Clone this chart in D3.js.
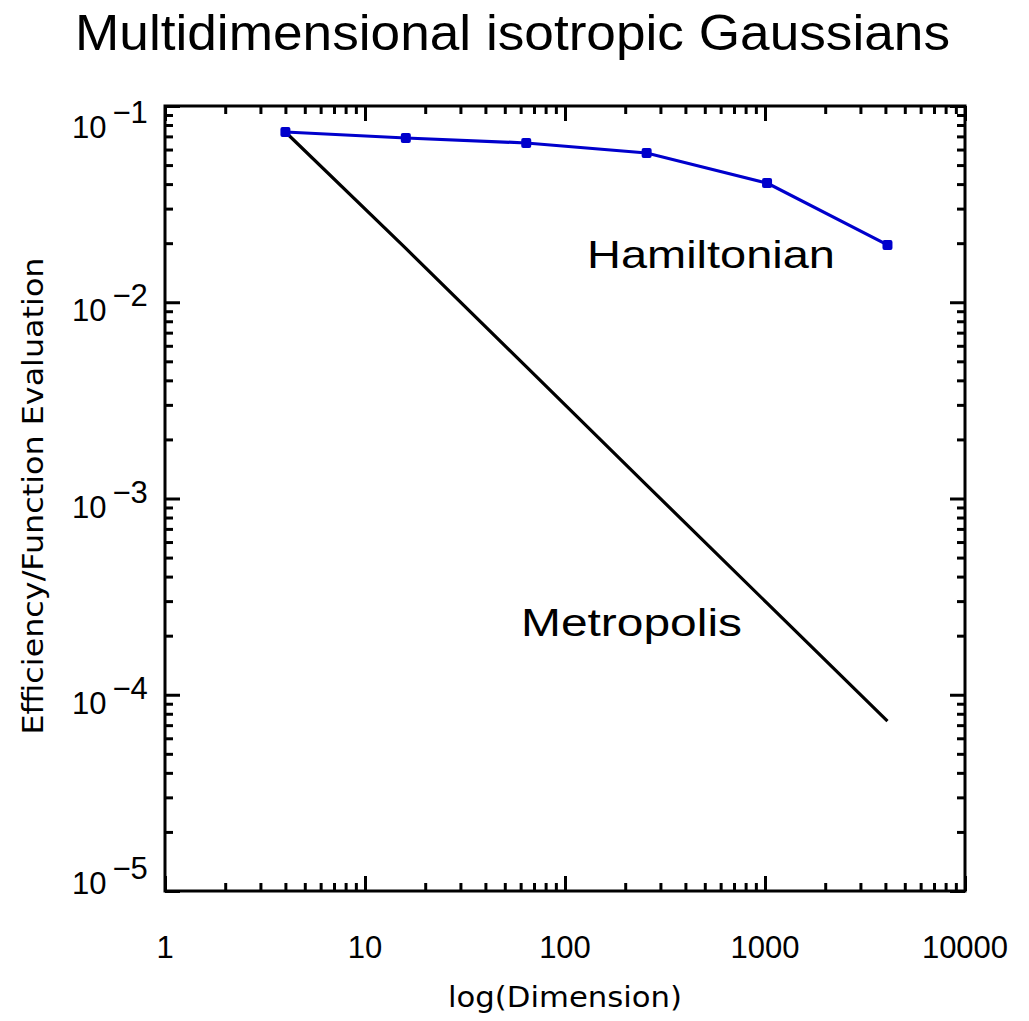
<html>
  <head>
    <script src="https://d3js.org/d3.v7.min.js"></script>
    <style>
      body { margin: 0; background: #fff; }
      svg { font-family: "Liberation Sans", Arial, sans-serif; }
      .axis path, .axis line { stroke: #000; stroke-width: 3; }
      .tick-label { font-size: 31px; fill: #000; }
    </style>
  </head>
  <body>
    <div id="chart"></div>
    <script>
// data
var dims = [4, 16, 64, 256, 1024, 4096];
var hamiltonian = [0.0737, 0.0687, 0.0648, 0.0576, 0.0405, 0.0196];
var metropolis = [0.0737, 0.0188, 0.0047, 0.00117, 0.000293, 0.0000733];
var xTicks = [1, 10, 100, 1000, 10000];
var xTickLabels = ["1", "10", "100", "1000", "10000"];
var yTicks = [1e-1, 1e-2, 1e-3, 1e-4, 1e-5];
var yTickExps = ["\u22121", "\u22122", "\u22123", "\u22124", "\u22125"];

var width = 1029, height = 1021;
var plotLeft = 165, plotRight = 965, plotTop = 106, plotBottom = 891;

var svg = d3.select("#chart").append("svg")
  .attr("width", width)
  .attr("height", height);

var xScale = d3.scaleLog().domain([1, 10000]).range([plotLeft, plotRight]);
var yScale = d3.scaleLog().domain([1e-5, 1e-1]).range([plotBottom, plotTop]);

/* minor ticks 2..9 in each decade */
var xMinor = [], yMinor = [];
xTicks.slice(0, -1).forEach(function(d) {
  for (var k = 2; k <= 9; k++) xMinor.push(d * k);
});
yTicks.slice(1).forEach(function(d) {
  for (var k = 2; k <= 9; k++) yMinor.push(d * k);
});

function addAxis(axis, tx, ty) {
  var g = svg.append("g")
    .attr("class", "axis")
    .attr("transform", `translate(${tx}, ${ty})`)
    .call(axis);
  g.select(".domain").remove();
  g.selectAll("text").remove();
}

[[xTicks, 15], [xMinor, 8]].forEach(function(t) {
  addAxis(d3.axisBottom(xScale).tickValues(t[0]).tickSize(-t[1]).tickFormat(""), 0, plotBottom);
  addAxis(d3.axisTop(xScale).tickValues(t[0]).tickSize(-t[1]).tickFormat(""), 0, plotTop);
});
[[yTicks, 15], [yMinor, 8]].forEach(function(t) {
  addAxis(d3.axisLeft(yScale).tickValues(t[0]).tickSize(-t[1]).tickFormat(""), plotLeft, 0);
  addAxis(d3.axisRight(yScale).tickValues(t[0]).tickSize(-t[1]).tickFormat(""), plotRight, 0);
});

/* frame */
svg.append("rect")
  .attr("x", plotLeft).attr("y", plotTop)
  .attr("width", plotRight - plotLeft).attr("height", plotBottom - plotTop)
  .attr("fill", "none").attr("stroke", "#000").attr("stroke-width", 3);

/* x tick labels */
svg.selectAll(".xlab")
  .data(xTicks).enter()
  .append("text")
  .attr("class", "tick-label")
  .attr("x", d => xScale(d))
  .attr("y", 958)
  .attr("text-anchor", "middle")
  .text((d, i) => xTickLabels[i]);

/* y tick labels, 10 with superscript exponent */
var ylab = svg.selectAll(".ylab")
  .data(yTicks).enter()
  .append("text")
  .attr("class", "tick-label")
  .attr("x", 72)
  .attr("y", d => Math.max(138, Math.min(894, yScale(d) + 19)));
ylab.append("tspan").text("10");
ylab.append("tspan")
  .attr("dx", 6)
  .attr("dy", -15)
  .text((d, i) => yTickExps[i]);

/* lines */
var line = d3.line()
  .x((d, i) => xScale(dims[i]))
  .y(d => yScale(d));

svg.append("path")
  .attr("d", line(metropolis))
  .attr("fill", "none")
  .attr("stroke", "#000")
  .attr("stroke-width", 3.2);

svg.append("path")
  .attr("d", line(hamiltonian))
  .attr("fill", "none")
  .attr("stroke", "#0000cc")
  .attr("stroke-width", 3.2);

svg.selectAll(".pt")
  .data(hamiltonian).enter()
  .append("rect")
  .attr("x", (d, i) => xScale(dims[i]) - 5)
  .attr("y", d => yScale(d) - 5)
  .attr("width", 10).attr("height", 10)
  .attr("rx", 2)
  .attr("fill", "#0000cc");

/* annotations */
svg.append("text")
  .attr("x", 587).attr("y", 268)
  .attr("font-size", 39)
  .attr("textLength", 248)
  .attr("lengthAdjust", "spacingAndGlyphs")
  .text("Hamiltonian");

svg.append("text")
  .attr("x", 521).attr("y", 636)
  .attr("font-size", 39)
  .attr("textLength", 221)
  .attr("lengthAdjust", "spacingAndGlyphs")
  .text("Metropolis");

/* titles */
svg.append("text")
  .attr("x", 75).attr("y", 50)
  .attr("font-size", 50)
  .attr("textLength", 875)
  .attr("lengthAdjust", "spacingAndGlyphs")
  .text("Multidimensional isotropic Gaussians");

svg.append("text")
  .attr("x", 565).attr("y", 1007)
  .attr("text-anchor", "middle")
  .attr("font-family", "DejaVu Sans")
  .attr("font-size", 28)
  .attr("textLength", 234)
  .attr("lengthAdjust", "spacingAndGlyphs")
  .text("log(Dimension)");

svg.append("text")
  .attr("transform", "translate(43, 496) rotate(-90)")
  .attr("text-anchor", "middle")
  .attr("font-family", "DejaVu Sans")
  .attr("font-size", 28)
  .attr("textLength", 477)
  .attr("lengthAdjust", "spacingAndGlyphs")
  .text("Efficiency/Function Evaluation");
    </script>
  </body>
</html>
